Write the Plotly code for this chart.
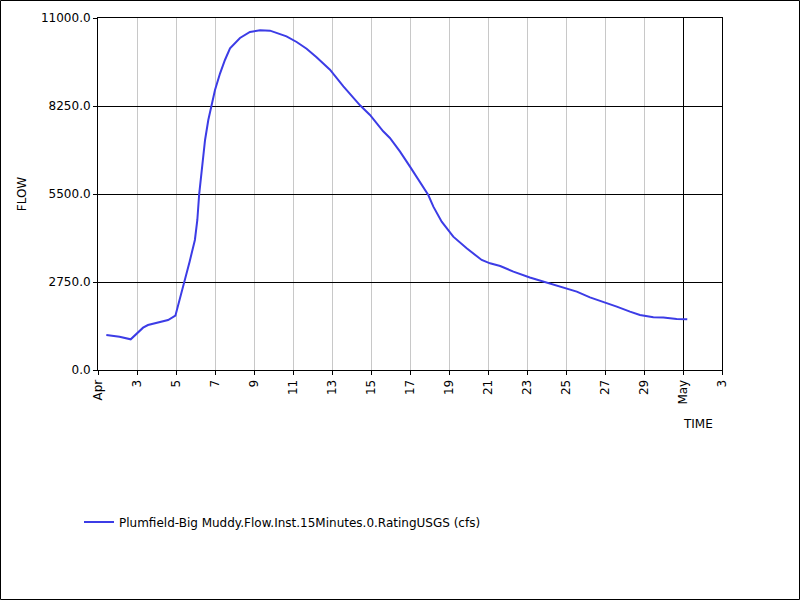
import plotly.graph_objects as go

times = [
    "2019-04-01 10:15", "2019-04-02 02:30", "2019-04-02 16:15", "2019-04-03 07:30",
    "2019-04-03 13:30", "2019-04-04 02:00", "2019-04-04 14:15", "2019-04-04 23:15",
    "2019-04-05 04:30", "2019-04-05 09:00", "2019-04-05 16:45", "2019-04-05 23:15",
    "2019-04-06 02:15", "2019-04-06 04:30", "2019-04-06 07:45", "2019-04-06 11:45",
    "2019-04-06 15:45", "2019-04-06 20:00", "2019-04-07 00:00", "2019-04-07 06:15",
    "2019-04-07 12:15", "2019-04-07 18:30",
    "2019-04-08 06:45", "2019-04-08 19:00", "2019-04-09 07:30", "2019-04-09 19:45",
    "2019-04-10 03:45", "2019-04-10 16:00", "2019-04-11 04:30", "2019-04-11 16:45",
    "2019-04-12 05:00", "2019-04-12 21:30", "2019-04-13 14:00", "2019-04-14 10:30",
    "2019-04-14 22:45", "2019-04-15 07:00", "2019-04-15 15:00", "2019-04-15 23:15",
    "2019-04-16 11:45", "2019-04-17 00:00", "2019-04-17 12:15", "2019-04-17 22:30",
    "2019-04-18 04:45", "2019-04-18 15:00", "2019-04-19 05:15", "2019-04-19 21:45",
    "2019-04-20 16:15", "2019-04-21 02:30", "2019-04-21 15:00", "2019-04-22 07:15",
    "2019-04-23 03:30", "2019-04-24 00:15", "2019-04-24 20:30", "2019-04-25 13:15",
    "2019-04-26 05:30", "2019-04-26 21:45", "2019-04-27 14:30", "2019-04-28 06:45",
    "2019-04-28 19:00", "2019-04-29 11:30", "2019-04-29 23:45", "2019-04-30 16:15",
    "2019-04-30 22:15", "2019-05-01 05:15",
]
flow = [
    1094, 1041, 958, 1323,
    1406, 1490, 1562, 1698,
    2188, 2656, 3385, 4063,
    4688, 5490, 6354, 7188,
    7813, 8250, 8750, 9271,
    9688, 10052,
    10375, 10563, 10615, 10604,
    10531, 10427, 10250, 10041,
    9771, 9385, 8865, 8271,
    7969, 7700, 7460, 7250,
    6823, 6354, 5885, 5469,
    5104, 4635, 4167, 3802,
    3438, 3333, 3250, 3073,
    2890, 2740, 2583, 2448,
    2271, 2135, 1979, 1823,
    1719, 1646, 1640, 1594,
    1583, 1583,
]

series_name = "Plumfield-Big Muddy.Flow.Inst.15Minutes.0.RatingUSGS (cfs)"

x_tick_vals = ["2019-04-01"] + [f"2019-04-{d:02d}" for d in range(3, 30, 2)] + ["2019-05-01", "2019-05-03"]
x_tick_text = ["Apr"] + [str(d) for d in range(3, 30, 2)] + ["May", "3"]
x_range = ["2019-04-01", "2019-05-03"]
month_ticks = ["2019-05-01"]

y_tick_vals = [0, 2750, 5500, 8250, 11000]
y_tick_text = ["0.0", "2750.0", "5500.0", "8250.0", "11000.0"]

W, H = 800, 600
L, R, T, B = 98, 78, 18, 230
pw, ph = W - L - R, H - T - B

fig = go.Figure()
# invisible helper trace so the month-boundary axis (black gridline) is rendered
fig.add_trace(go.Scatter(x=[], y=[], xaxis="x2", yaxis="y", showlegend=False,
                         hoverinfo="skip"))
fig.add_trace(go.Scatter(
    x=times, y=flow, mode="lines", name=series_name,
    line=dict(color="#3c3ce6", width=2),
    showlegend=True,
))

font = dict(family="DejaVu Sans", size=12, color="black")

fig.update_layout(
    width=W, height=H,
    margin=dict(l=L, r=R, t=T, b=B, autoexpand=False),
    paper_bgcolor="white", plot_bgcolor="white",
    font=font,
    showlegend=True,
    legend=dict(
        orientation="h", x=(79 - L) / pw, xanchor="left",
        y=-(522 - (T + ph)) / ph, yanchor="middle",
        itemwidth=30, font=font, bgcolor="rgba(0,0,0,0)",
    ),
    xaxis=dict(
        type="date", range=x_range,
        tickmode="array", tickvals=x_tick_vals, ticktext=x_tick_text,
        tickangle=-90, ticks="outside", ticklen=4, tickcolor="black",
        showgrid=True, gridcolor="#c8c8c8", gridwidth=1,
        showline=True, linecolor="black", linewidth=1, mirror=True,
        zeroline=False, tickfont=font,
    ),
    xaxis2=dict(
        type="date", range=x_range, overlaying="x", side="bottom",
        tickmode="array", tickvals=month_ticks, showticklabels=False, ticks="",
        showgrid=True, gridcolor="black", gridwidth=1,
        showline=False, zeroline=False,
    ),
    yaxis=dict(
        range=[0, 11000],
        tickmode="array", tickvals=y_tick_vals, ticktext=y_tick_text,
        ticks="outside", ticklen=4, tickcolor="black",
        showgrid=True, gridcolor="black", gridwidth=1,
        showline=True, linecolor="black", linewidth=1, mirror=True,
        zeroline=False, tickfont=font,
        title=dict(text="FLOW", font=font, standoff=11),
    ),
    shapes=[
        dict(type="rect", xref="paper", yref="paper",
             x0=-(L - 0.5) / pw, x1=1 + (R - 0.5) / pw,
             y0=-(B - 0.5) / ph, y1=1 + (T - 0.5) / ph,
             line=dict(color="black", width=1)),
    ],
    annotations=[
        dict(text="TIME", xref="paper", yref="paper",
             x=(681 - L) / pw, xanchor="left",
             y=-(424 - (T + ph)) / ph, yanchor="middle",
             showarrow=False, font=font),
    ],
)

fig.write_html("out.html", config={"displayModeBar": False},
               post_script="document.body.style.margin='0';document.body.style.overflow='hidden';")
